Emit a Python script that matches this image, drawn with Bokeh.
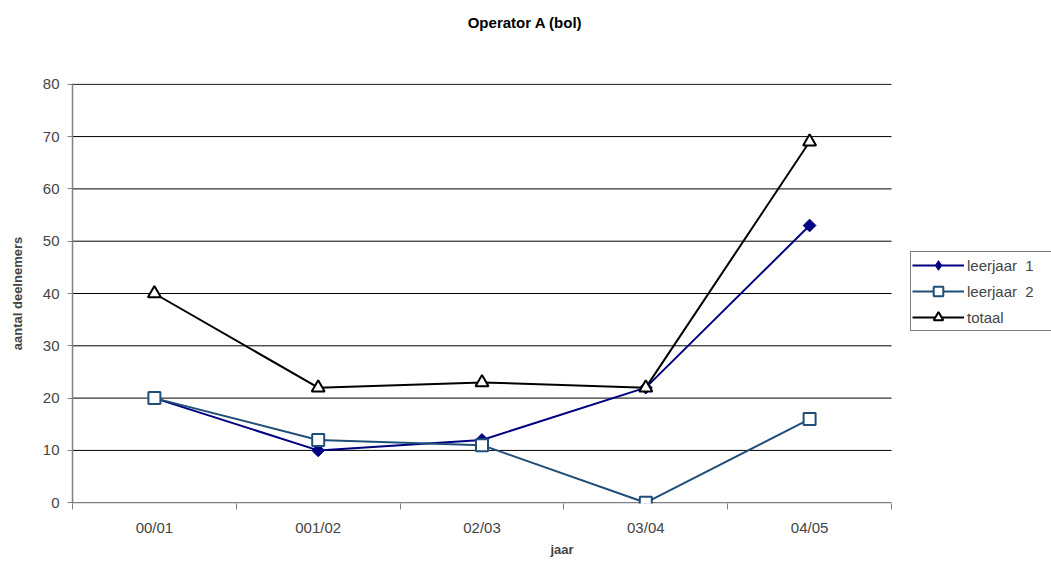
import math
from bokeh.plotting import figure
from bokeh.layouts import column
from bokeh.models import Range1d, FixedTicker, Legend, LegendItem, Label
from bokeh.embed import file_html
from bokeh.resources import INLINE

# Schooljaren en aantallen deelnemers
jaren = ["00/01", "001/02", "02/03", "03/04", "04/05"]
leerjaar_1 = [20, 10, 12, 22, 53]
leerjaar_2 = [20, 12, 11, 0, 16]
totaal = [40, 22, 23, 22, 69]
y_ticks = [0, 10, 20, 30, 40, 50, 60, 70, 80]

FONT = "Liberation Sans"
W, H = 1051, 563
TITLE_H = 40

n = len(jaren)
# each year sits in the middle of its own band on a 0..n scale
xpos = [i + 0.5 for i in range(n)]

# --- title strip -----------------------------------------------------------
tfig = figure(width=W, height=TITLE_H, output_backend="svg", toolbar_location=None,
              x_range=Range1d(0, W), y_range=Range1d(0, TITLE_H),
              x_axis_type=None, y_axis_type=None, min_border=0)
tfig.outline_line_color = None
tfig.grid.visible = False
tfig.add_layout(Label(x=486, y=TITLE_H - 22, text="Operator A (bol)",
                      text_align="center", text_baseline="middle",
                      text_font=FONT, text_font_size="15px",
                      text_font_style="bold", text_color="black"))

# --- chart -------------------------------------------------------------------
# the frame runs on to the right edge of the canvas so the legend can sit
# beside the data area; the data bands themselves span 0..n (819 px)
LEFT, DATA_W = 72, 819
x_end = n * (W - LEFT) / DATA_W

p = figure(width=W, height=H - TITLE_H, output_backend="svg", toolbar_location=None,
           x_range=Range1d(0, x_end), y_range=Range1d(-0.15, 80.15),
           min_border_left=LEFT, min_border_right=0, min_border_top=83 - TITLE_H,
           min_border_bottom=60)
p.background_fill_color = "white"
p.border_fill_color = "white"
p.outline_line_color = None

# x axis: labels centred on each year, tick marks on band boundaries
xa = p.xaxis[0]
xa.ticker = FixedTicker(ticks=xpos, minor_ticks=list(range(n + 1)))
xa.major_label_overrides = {x: j for x, j in zip(xpos, jaren)}
xa.major_tick_out = 0
xa.major_tick_in = 0
xa.minor_tick_out = 6
xa.minor_tick_in = 0
xa.minor_tick_line_color = "#808080"
xa.axis_line_color = None
xa.major_label_text_font = FONT
xa.major_label_text_font_size = "15px"
xa.major_label_standoff = 9
xa.axis_label = "jaar"
xa.axis_label_text_font = FONT
xa.axis_label_text_font_size = "13px"
xa.axis_label_text_font_style = "bold"
xa.axis_label_standoff = 3

ya = p.yaxis[0]
ya.ticker = FixedTicker(ticks=y_ticks)
ya.minor_tick_line_color = None
ya.major_tick_out = 5
ya.major_tick_in = 0
ya.major_tick_line_color = "#808080"
ya.axis_line_color = "#808080"
ya.axis_line_width = 1.5
ya.major_label_text_font = FONT
ya.major_label_text_font_size = "15px"
ya.major_label_standoff = 8
ya.axis_label = "aantal deelnemers"
ya.axis_label_text_font = FONT
ya.axis_label_text_font_size = "13px"
ya.axis_label_text_font_style = "bold"
ya.axis_label_standoff = 15

p.xgrid.grid_line_color = None
p.ygrid.grid_line_color = None

# horizontal grid lines and the category axis line, limited to the data bands
p.segment(x0=0, x1=n, y0=y_ticks[1:], y1=y_ticks[1:], line_color="black", line_width=1)
p.segment(x0=0, x1=n, y0=y_ticks[0], y1=y_ticks[0], line_color="#808080", line_width=1.5)

r1l = p.line(xpos, leerjaar_1, line_color="#000080", line_width=2)
r1m = p.scatter(xpos, leerjaar_1, marker="square", angle=math.pi / 4, size=9,
                fill_color="#000080", line_color="#000080")
# diamond used only for the legend swatch
r1k = p.scatter(xpos, leerjaar_1, marker="diamond", size=12, visible=False,
                fill_color="#000080", line_color="#000080")
r2l = p.line(xpos, leerjaar_2, line_color="#1F4E79", line_width=2)
r2m = p.scatter(xpos, leerjaar_2, marker="square", size=12,
                fill_color="white", line_color="#1F4E79", line_width=2)
r3l = p.line(xpos, totaal, line_color="black", line_width=2)
r3m = p.scatter(xpos, totaal, marker="triangle", size=13,
                fill_color="white", line_color="black", line_width=2)

legend = Legend(items=[
    LegendItem(label="leerjaar  1", renderers=[r1l, r1k]),
    LegendItem(label="leerjaar  2", renderers=[r2l, r2m]),
    LegendItem(label="totaal", renderers=[r3l, r3m]),
], location=(838, 172))
legend.label_text_font = FONT
legend.label_text_font_size = "15px"
legend.glyph_width = 52
legend.glyph_height = 24
legend.label_height = 20
legend.label_width = 90
legend.label_standoff = 3
legend.spacing = 2
legend.padding = 1
legend.margin = 0
legend.border_line_color = "black"
legend.border_line_width = 1
legend.background_fill_alpha = 1
p.add_layout(legend)

layout = column(tfig, p, spacing=0)
open("out.html", "w").write(file_html(layout, INLINE))
